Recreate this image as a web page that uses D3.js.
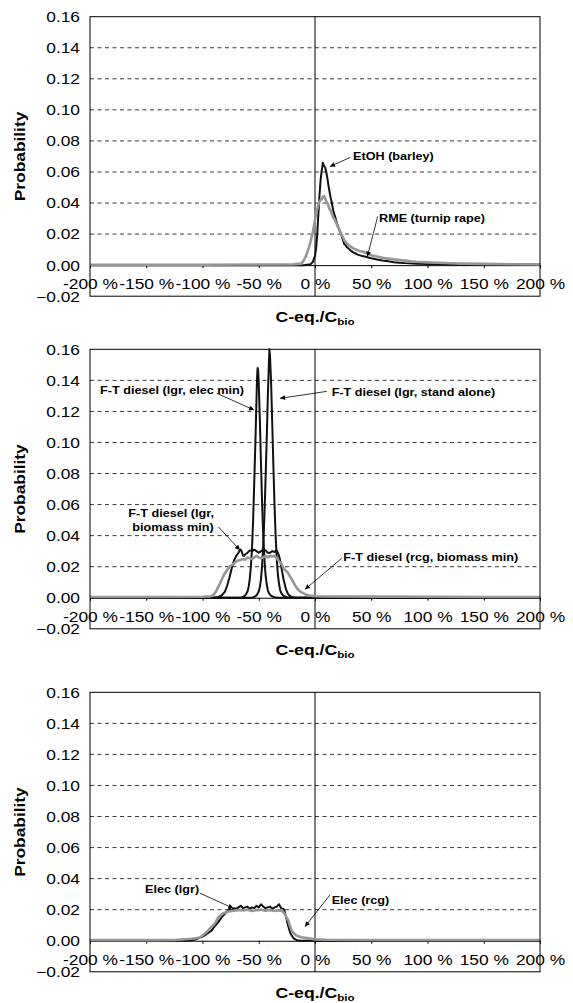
<!DOCTYPE html>
<html lang="en">
<head>
<meta charset="utf-8">
<script src="https://cdn.jsdelivr.net/npm/d3@7"></script>
<style>
  body { margin: 0; background: #fff; }
  svg text { font-family: "Liberation Sans", Arial, sans-serif; fill: #000; }
</style>
</head>
<body>
<svg id="chart" width="573" height="1003"></svg>
<script>
// ---- data (x in %, y = probability) ----
var xTicks = [-200, -150, -100, -50, 0, 50, 100, 150, 200];
var yTicks = [-0.02, 0, 0.02, 0.04, 0.06, 0.08, 0.10, 0.12, 0.14, 0.16];

var etohBarley = [[-200,0],[-10,0],[-4,0.0005],[-2,0.002],[0,0.006],[1,0.011],[2,0.02],[3,0.033],[4,0.045],
  [5,0.055],[6,0.061],[7,0.066],[8,0.064],[9,0.063],[10,0.06],[11,0.056],[12,0.051],[13,0.047],[14,0.043],
  [15,0.04],[16,0.036],[17,0.033],[18,0.031],[19,0.028],[20,0.026],[21,0.024],[22,0.022],[23,0.0205],
  [24,0.018],[25,0.016],[26,0.0135],[27,0.013],[28,0.0118],[29,0.0112],[30,0.0106],[32,0.0092],[34,0.0082],
  [36,0.0075],[38,0.0068],[40,0.0063],[42,0.0059],[44,0.0056],[46,0.0052],[48,0.0048],[50,0.0044],[55,0.0036],
  [60,0.003],[65,0.0025],[70,0.0019],[75,0.0016],[80,0.0013],[90,0.0009],[100,0.0007],[110,0.0005],
  [125,0.0003],[150,0.0002],[175,0.0001],[200,0.0001]];
var rmeTurnip = [[-200,0.0003],[-150,0.0003],[-100,0.0003],[-50,0.0004],[-20,0.0005],[-12,0.001],[-10,0.003],
  [-8,0.006],[-6,0.01],[-4,0.015],[-2,0.021],[0,0.029],[1,0.034],[2,0.036],[3,0.039],[4,0.041],[5,0.042],
  [6,0.0425],[7,0.044],[8,0.0445],[9,0.043],[10,0.041],[11,0.04],[12,0.038],[13,0.036],[14,0.035],[15,0.033],
  [16,0.031],[17,0.03],[18,0.0285],[19,0.027],[20,0.025],[21,0.024],[22,0.022],[23,0.021],[24,0.019],
  [25,0.018],[26,0.016],[27,0.015],[28,0.014],[29,0.0135],[30,0.0128],[32,0.0118],[34,0.0108],[36,0.0102],
  [38,0.0095],[40,0.009],[42,0.0088],[44,0.0082],[46,0.0078],[48,0.0071],[50,0.0064],[55,0.0055],[60,0.0048],
  [65,0.0042],[70,0.0037],[75,0.0033],[80,0.0029],[85,0.0025],[90,0.0022],[100,0.0018],[110,0.0015],
  [120,0.0012],[130,0.001],[150,0.0008],[175,0.0006],[200,0.0005]];

var ftStandAlone = [[-200,0],[-56,0],[-54,0.0005],[-52,0.0015],[-50,0.004],[-49,0.007],[-48,0.012],
  [-47,0.021],[-46,0.034],[-45,0.052],[-44,0.075],[-43,0.1],[-42,0.128],[-41,0.151],[-40.5,0.16],
  [-40,0.156],[-39,0.138],[-38,0.112],[-37,0.085],[-36,0.06],[-35,0.04],[-34,0.025],[-33,0.015],
  [-32,0.009],[-31,0.005],[-30,0.003],[-28,0.0012],[-25,0.0003],[-20,0],[200,0]];
var ftElecMin = [[-200,0],[-66,0],[-64,0.0005],[-62,0.0015],[-60,0.004],[-59,0.007],[-58,0.012],
  [-57,0.02],[-56,0.032],[-55,0.05],[-54,0.074],[-53,0.1],[-52,0.128],[-51.5,0.142],[-51,0.148],
  [-50.5,0.146],[-50,0.138],[-49,0.114],[-48,0.086],[-47,0.06],[-46,0.04],[-45,0.025],[-44,0.015],
  [-43,0.009],[-42,0.005],[-41,0.003],[-39,0.0012],[-36,0.0003],[-32,0],[200,0]];
var ftLgrBiomass = [[-200,0],[-90,0],[-86,0.0005],[-83,0.0015],[-80,0.004],[-78,0.008],[-76,0.013],
  [-74,0.019],[-72,0.024],[-70,0.027],[-68,0.029],[-67,0.0305],[-66,0.031],[-65,0.0295],[-64,0.027],
  [-63,0.027],[-62,0.028],[-60,0.029],[-58,0.0305],[-56,0.03],[-54,0.031],[-52,0.03],[-50,0.029],
  [-48,0.03],[-46,0.031],[-44,0.0305],[-42,0.029],[-40,0.029],[-38,0.03],[-36,0.0295],[-34,0.0305],
  [-33,0.029],[-32,0.027],[-31,0.024],[-30,0.02],[-29,0.016],[-28,0.012],[-27,0.009],[-26,0.006],
  [-25,0.004],[-24,0.0025],[-22,0.001],[-20,0.0004],[-17,0],[200,0]];
var ftRcgBiomass = [[-200,0.0005],[-150,0.0005],[-100,0.0006],[-92,0.001],[-90,0.002],[-88,0.004],
  [-86,0.007],[-84,0.01],[-82,0.013],[-80,0.016],[-78,0.018],[-76,0.02],[-74,0.021],[-72,0.022],
  [-70,0.0235],[-68,0.024],[-66,0.0245],[-64,0.025],[-62,0.0245],[-60,0.026],[-58,0.0255],[-56,0.025],
  [-54,0.026],[-52,0.027],[-50,0.026],[-48,0.0255],[-46,0.026],[-44,0.027],[-42,0.026],[-40,0.027],
  [-38,0.0265],[-36,0.027],[-34,0.0255],[-32,0.0235],[-30,0.022],[-28,0.019],[-26,0.0175],[-24,0.016],
  [-22,0.0135],[-20,0.011],[-18,0.0085],[-16,0.006],[-14,0.0045],[-12,0.0035],[-10,0.0028],[-8,0.002],
  [-5,0.0015],[0,0.001],[10,0.0008],[50,0.0007],[100,0.0006],[150,0.0005],[200,0.0005]];

var elecLgr = [[-200,0],[-115,0],[-110,0.0003],[-106,0.001],[-102,0.002],[-98,0.0035],[-95,0.005],
  [-92,0.0065],[-89,0.0095],[-86,0.012],[-83,0.015],[-80,0.0175],[-78,0.019],[-76,0.0205],[-74,0.0195],
  [-72,0.021],[-70,0.0205],[-68,0.0215],[-66,0.0225],[-64,0.021],[-62,0.0215],[-60,0.022],[-58,0.0205],
  [-56,0.0215],[-54,0.021],[-52,0.0225],[-50,0.0215],[-48,0.0235],[-46,0.022],[-44,0.021],[-42,0.0215],
  [-40,0.022],[-38,0.0205],[-36,0.0215],[-34,0.022],[-32,0.0235],[-30,0.021],[-28,0.0205],[-27,0.019],
  [-26,0.016],[-25,0.013],[-24,0.01],[-23,0.0075],[-22,0.005],[-20,0.0025],[-18,0.001],[-16,0.0004],
  [-13,0],[200,0]];
var elecRcg = [[-200,0.0004],[-150,0.0004],[-125,0.0005],[-120,0.0007],[-115,0.001],[-110,0.0013],
  [-105,0.0018],[-102,0.0023],[-98,0.0045],[-95,0.0065],[-92,0.009],[-89,0.011],[-86,0.015],[-83,0.017],
  [-80,0.0182],[-76,0.019],[-72,0.0193],[-68,0.0198],[-64,0.0195],[-60,0.02],[-56,0.0192],[-52,0.0197],
  [-48,0.02],[-44,0.0194],[-40,0.0198],[-36,0.0192],[-32,0.0196],[-29,0.019],[-27,0.0175],[-25,0.0145],
  [-23.7,0.0129],[-22,0.009],[-20.7,0.0064],[-18.5,0.0045],[-16.3,0.0032],[-12,0.0022],[-7.4,0.0017],
  [0,0.0009],[10,0.0006],[50,0.0005],[100,0.0005],[150,0.0005],[200,0.0005]];

// ---- layout ----
var svg = d3.select('#chart');
var left = 90, right = 540, plotH = 279.5;
var stretch = 1.24;
var xScale = d3.scaleLinear().domain([-200, 200]).range([left, right]);

svg.append('defs').append('marker')
  .attr('id', 'arr').attr('viewBox', '0 0 10 10').attr('refX', 10).attr('refY', 5)
  .attr('markerUnits', 'userSpaceOnUse').attr('markerWidth', 6).attr('markerHeight', 5)
  .attr('orient', 'auto')
  .append('path').attr('d', 'M0,0L10,5L0,10z').attr('fill', '#000');

var line = function(yScale) {
  return d3.line().x(function(d){ return xScale(d[0]); }).y(function(d){ return yScale(d[1]); });
};

function addText(g, x, y, str, size, weight, anchor, k) {
  return g.append('text')
    .attr('transform', 'translate(' + x + ',' + y + ') scale(' + (k || 1.15) + ',1)')
    .attr('font-size', size).attr('font-weight', weight || 'bold')
    .attr('text-anchor', anchor || 'start')
    .text(str);
}

function drawPanel(top, blackSeries, greySeries, notes) {
  var yScale = d3.scaleLinear().domain([-0.02, 0.16]).range([top + plotH, top]);
  var g = svg.append('g');

  // dashed gridlines
  g.selectAll('line.grid')
    .data(yTicks.filter(function(v){ return v > 0.001 && v < 0.159; }))
    .enter().append('line').attr('class', 'grid')
    .attr('x1', left).attr('x2', right)
    .attr('y1', function(d){ return yScale(d); }).attr('y2', function(d){ return yScale(d); })
    .attr('stroke', '#222').attr('stroke-width', 0.9).attr('stroke-dasharray', '4,3.5');

  // y axis labels
  var yAxis = d3.axisLeft(yScale).tickValues(yTicks).tickSize(0)
    .tickFormat(function(d){ return d3.format('.2f')(d); });
  var ya = g.append('g').attr('transform', 'translate(' + left + ',0)').call(yAxis);
  ya.select('.domain').remove();
  ya.selectAll('.tick text').attr('x', 0).attr('dy', '0.35em')
    .attr('font-size', 14).attr('font-family', null)
    .attr('transform', 'translate(-10,0) scale(' + stretch + ',1)');

  // x axis on zero line
  var xAxis = d3.axisBottom(xScale).tickValues(xTicks).tickSize(3).tickSizeOuter(0)
    .tickFormat(function(d){ return d + ' %'; });
  var xa = g.append('g').attr('transform', 'translate(0,' + yScale(0) + ')').call(xAxis);
  xa.select('.domain').attr('stroke', '#000');
  xa.selectAll('.tick line').attr('stroke', '#000');
  xa.selectAll('.tick text').attr('y', 0).attr('dy', null)
    .attr('font-size', 14).attr('font-family', null)
    .attr('text-anchor', 'middle')
    .attr('transform', 'translate(0,24) scale(' + stretch + ',1)');

  // vertical line at 0 %
  g.append('line')
    .attr('x1', xScale(0)).attr('x2', xScale(0))
    .attr('y1', yScale(0.16)).attr('y2', yScale(-0.02))
    .attr('stroke', '#000').attr('stroke-width', 1);

  // series
  blackSeries.forEach(function(s){
    g.append('path').datum(s).attr('d', line(yScale))
      .attr('fill', 'none').attr('stroke', '#111').attr('stroke-width', 2)
      .attr('stroke-linejoin', 'round');
  });
  greySeries.forEach(function(s){
    g.append('path').datum(s).attr('d', line(yScale))
      .attr('fill', 'none').attr('stroke', '#969696').attr('stroke-width', 2.6)
      .attr('stroke-linejoin', 'round');
  });

  // frame
  g.append('rect')
    .attr('x', left).attr('y', yScale(0.16))
    .attr('width', right - left).attr('height', yScale(-0.02) - yScale(0.16))
    .attr('fill', 'none').attr('stroke', '#000').attr('stroke-width', 1);

  // annotations
  notes.forEach(function(n){
    n.text.forEach(function(t, i){
      addText(g, xScale(n.at[0]) + (n.dx ? n.dx[i] : 0), yScale(n.at[1]) + i * 13.5, t, 11);
    });
    g.append('line')
      .attr('x1', xScale(n.from[0])).attr('y1', yScale(n.from[1]))
      .attr('x2', xScale(n.to[0])).attr('y2', yScale(n.to[1]))
      .attr('stroke', '#000').attr('stroke-width', 0.8)
      .attr('marker-end', 'url(#arr)');
  });

  // axis titles
  g.append('text')
    .attr('transform', 'translate(25,' + (yScale(0.07)) + ') rotate(-90) scale(' + stretch + ',1)')
    .attr('text-anchor', 'middle').attr('font-size', 14).attr('font-weight', 'bold')
    .text('Probability');
  var xt = g.append('text')
    .attr('transform', 'translate(' + xScale(0) + ',' + (yScale(0) + 57) + ') scale(1.22,1)')
    .attr('text-anchor', 'middle').attr('font-size', 14.5).attr('font-weight', 'bold');
  xt.append('tspan').text('C-eq./C');
  xt.append('tspan').attr('font-size', 9.5).attr('dy', 3).text('bio');
}

drawPanel(16.7, [etohBarley], [rmeTurnip], [
  { text: ['EtOH (barley)'], at: [33.8, 0.0678], from: [31.1, 0.0693], to: [13.3, 0.0635] },
  { text: ['RME (turnip rape)'], at: [56.9, 0.0276], from: [55.7, 0.0313], to: [46.5, 0.0055] }
]);

drawPanel(349.3, [ftStandAlone, ftElecMin, ftLgrBiomass], [ftRcgBiomass], [
  { text: ['F-T diesel (lgr, elec min)'], at: [-191.1, 0.1312], from: [-87.4, 0.1317], to: [-54.2, 0.1209] },
  { text: ['F-T diesel (lgr, stand alone)'], at: [14.8, 0.1299], from: [10.4, 0.1329], to: [-31.1, 0.1284] },
  { text: ['F-T diesel (lgr,', 'biomass min)'], dx: [0, 4], at: [-166, 0.0517], from: [-86, 0.0457], to: [-66.7, 0.0307] },
  { text: ['F-T diesel (rcg, biomass min)'], at: [25.2, 0.0236], from: [23.7, 0.0254], to: [-8.9, 0.0054] }
]);

drawPanel(692.3, [elecLgr], [elecRcg], [
  { text: ['Elec (lgr)'], at: [-151.1, 0.0305], from: [-102.2, 0.0306], to: [-72.6, 0.0209] },
  { text: ['Elec (rcg)'], at: [14.8, 0.0237], from: [13.3, 0.0295], to: [-8.9, 0.0091] }
]);
</script>
</body>
</html>
